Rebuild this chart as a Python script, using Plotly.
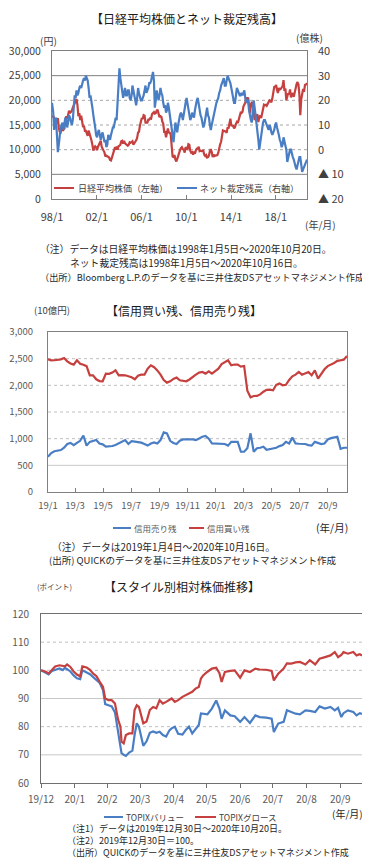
import plotly.graph_objects as go
import pandas as pd

# The page body has an 8px default margin, so the figure is sized/positioned to compensate.
OFF = 8
W, H = 370 - OFF, 863 - OFF
def px(x): return (x - OFF) / W
def py(y): return 1 - (y - OFF) / H

FONT = "Noto Sans CJK JP"
RED = "#C5403E"
BLUE = "#4A7EC4"

# ---------------- Chart 1: Nikkei vs net arbitrage (monthly, 1998/1 - 2020/10)
nikkei = [
    16600, 16800, 16500, 15500, 15300, 15800, 16400, 14500, 13600, 13500, 14800, 13800,  # 1998
    14000, 14300, 15800, 16800, 16200, 17500, 17900, 17400, 17600, 17900, 18500, 18900,  # 1999
    19500, 19900, 20300, 19000, 16800, 17400, 16000, 16900, 15900, 14600, 14800, 13800,  # 2000
    13800, 12900, 12800, 13900, 13300, 12900, 11900, 11000, 9800, 10400, 10700, 10500,   # 2001
    9900, 10600, 11000, 11500, 11800, 10600, 10000, 9800, 9400, 8600, 8800, 8600,        # 2002
    8400, 8400, 7900, 7800, 8400, 9100, 9600, 10300, 10200, 10600, 10000, 10700,         # 2003
    10800, 11000, 11700, 11800, 11200, 11800, 11300, 11100, 11000, 10800, 11000, 11500,  # 2004
    11400, 11700, 11700, 11000, 11200, 11600, 11900, 12400, 13500, 13600, 14900, 16100,  # 2005
    16400, 16200, 17000, 16900, 15500, 15500, 15500, 16100, 16100, 16400, 16300, 17200,  # 2006
    17400, 17600, 17300, 17400, 17900, 18100, 17300, 16600, 16800, 16700, 15700, 15300,  # 2007
    13600, 13600, 12500, 13800, 14300, 13500, 13400, 13100, 11300, 8600, 8500, 8900,     # 2008
    8000, 7600, 8100, 8800, 9500, 9900, 10300, 10500, 10100, 10000, 9400, 10500,         # 2009
    10200, 10100, 11100, 11000, 9800, 9400, 9500, 9000, 9400, 9200, 9900, 10200,         # 2010
    10200, 10600, 9700, 9800, 9700, 9800, 9800, 8950, 8700, 8900, 8400, 8500,            # 2011
    8800, 9700, 10100, 9500, 8500, 9000, 8700, 8800, 8900, 8900, 9400, 10400,            # 2012
    11100, 11600, 12400, 13900, 13800, 13700, 13700, 13400, 14500, 14300, 15700, 16300,  # 2013
    14900, 14800, 14800, 14300, 14600, 15200, 15600, 15400, 16200, 16400, 17500, 17450,  # 2014
    17700, 18800, 19200, 19500, 20600, 20200, 20600, 18900, 17400, 19100, 19700, 19000,  # 2015
    17500, 16000, 17000, 16700, 17200, 15600, 16600, 16900, 16400, 17400, 18300, 19100,  # 2016
    19000, 19100, 18900, 19200, 19700, 20000, 19900, 19600, 20400, 22000, 22700, 22800,  # 2017
    23100, 22100, 21500, 22500, 22200, 22300, 22600, 22900, 24100, 21900, 22400, 20000,  # 2018
    20800, 21400, 21200, 22200, 20600, 21300, 21500, 20700, 21800, 22900, 23300, 23700,  # 2019
    23200, 21100, 17000, 20200, 21900, 22300, 21700, 23100, 23200, 23500,                # 2020
]
net_arb = [
    19, 15, 8, 12, 13, 6, -1, 2, 6, 9, 10, 11,        # 1998
    8, 10, 13, 12, 9, 11, 14, 13, 11, 10, 12, 16,     # 1999
    22, 21, 24, 22, 23, 25, 26, 25, 27, 28, 29, 28,   # 2000
    30, 29, 28, 25, 21, 22, 20, 17, 14, 10, 9, 6,     # 2001
    5, 7, 8, 6, 4, 6, 7, 5, 3, 4, 1, 2,               # 2002
    6, 5, 4, 6, 8, 9, 9, 11, 13, 12, 18, 24,          # 2003
    33, 29, 26, 24, 21, 23, 25, 22, 22, 24, 24, 21,   # 2004
    20, 22, 26, 24, 22, 20, 18, 21, 25, 23, 21, 20,   # 2005
    20, 21, 22, 24, 26, 23, 24, 25, 27, 27, 28, 30,   # 2006
    31.5, 28, 17, 20, 24, 22, 20, 22, 25, 23, 22, 19, # 2007
    17, 18, 15, 16, 19, 17, 14, 12, 9, 5, 3, 7,       # 2008
    11, 9, 7, 10, 13, 14, 15, 14, 12, 15, 18, 19,     # 2009
    21, 19, 17, 14, 12, 13, 15, 14, 13, 16, 19, 20,   # 2010
    21, 18, 15, 14, 13, 11, 9, 10, 12, 15, 17, 14,    # 2011
    13, 10, 8, 10, 12, 14, 16, 17, 19, 20, 21, 23,    # 2012
    24, 26, 27, 28, 29, 26, 26, 28, 30, 29, 28, 27,   # 2013
    25, 22, 21, 19, 19, 22, 25, 24, 23, 22, 22, 23,   # 2014
    22, 23, 24, 21, 19, 20, 20, 16, 13, 12, 11, 16,   # 2015
    20, 17, 14, 11, 9, 4, 0, 3, 7, 10, 11, 12,        # 2016
    12, 11, 10, 9, 8, 10, 9, 7, 6, 7, 8, 10,          # 2017
    11, 9, 8, 6, 4, 3, 1, 2, 5, 3, 2, 0,              # 2018
    -5, -3, -1, 0, 0, -2, -3, -4, -6, -7, -8, -6,     # 2019
    -4, -3, -3, -6, -9, -8, -7, -6, -5, -4,           # 2020
]
c1_dates = list(pd.date_range("1998-01-01", "2020-10-01", freq="MS") + pd.Timedelta(days=14))
c1_dates[0] = pd.Timestamp("1998-01-05")
c1_dates[-1] = pd.Timestamp("2020-10-20")
c1_xticks = ["1998-01-05", "2002-01-05", "2006-01-05", "2010-01-05", "2014-01-05", "2018-01-05"]
c1_xlabels = ["98/1", "02/1", "06/1", "10/1", "14/1", "18/1"]
c1_yl_vals = [0, 5000, 10000, 15000, 20000, 25000, 30000]
c1_yl_text = ["0", "5,000", "10,000", "15,000", "20,000", "25,000", "30,000"]
c1_yr_vals = [-20, -10, 0, 10, 20, 30, 40]
c1_yr_text = ["▲ 20", "▲ 10", "0", "10", "20", "30", "40"]

# ---------------- Chart 2: margin balances (weekly 2019/1/4 - 2020/10/16)
margin_buy = [
    2487, 2469, 2470, 2475, 2487, 2512, 2450, 2410, 2388, 2469,
    2406, 2385, 2360, 2188, 2188, 2113, 2080, 2076, 2220, 2215,
    2240, 2282, 2188, 2190, 2188, 2170, 2150, 2113, 2180, 2200,
    2200, 2313, 2375, 2340, 2280, 2200, 2100, 2051, 2076, 2120,
    2145, 2095, 2090, 2076, 2110, 2160, 2200, 2238, 2250, 2220,
    2263, 2220, 2260, 2313, 2400, 2437, 2469, 2375, 2390, 2388,
    2350, 2363, 1900, 1775, 1800, 1802, 1830, 1880, 1915, 1920,
    1908, 2010, 2033, 2000, 2010, 2100, 2170, 2200, 2250, 2200,
    2230, 2250, 2188, 2282, 2126, 2220, 2300, 2360, 2388, 2420,
    2460, 2470, 2480, 2550,
]
margin_sell = [
    662, 730, 765, 775, 787, 830, 900, 920, 880, 920,
    960, 1060, 870, 940, 950, 974, 910, 893, 850, 855,
    862, 880, 910, 940, 974, 900, 955, 945, 940, 925,
    900, 870, 910, 930, 910, 974, 1117, 1100, 960, 920,
    900, 960, 985, 980, 985, 985, 975, 1004, 1035, 1050,
    1000, 910, 910, 910, 905, 900, 870, 940, 940, 940,
    755, 755, 820, 1100, 755, 820, 830, 850, 790, 800,
    810, 830, 860, 880, 940, 910, 1020, 910, 905, 900,
    900, 880, 870, 940, 920, 900, 910, 985, 1010, 1030,
    1035, 810, 830, 830,
]
c2_dates = pd.date_range("2019-01-04", periods=len(margin_buy), freq="7D")
c2_xticks = ["2019-01-04", "2019-03-04", "2019-05-04", "2019-07-04", "2019-09-04", "2019-11-04",
             "2020-01-04", "2020-03-04", "2020-05-04", "2020-07-04", "2020-09-04"]
c2_xlabels = ["19/1", "19/3", "19/5", "19/7", "19/9", "19/11", "20/1", "20/3", "20/5", "20/7", "20/9"]
c2_yvals = [0, 500, 1000, 1500, 2000, 2500, 3000]
c2_ytext = ["0", "500", "1,000", "1,500", "2,000", "2,500", "3,000"]

# ---------------- Chart 3: TOPIX value / growth (2019/12/30 = 100)
c3_dates = [
    "2019-12-30", "2020-01-03", "2020-01-06", "2020-01-09", "2020-01-12", "2020-01-16", "2020-01-19",
    "2020-01-21", "2020-01-23", "2020-01-26", "2020-01-29", "2020-02-01", "2020-02-04", "2020-02-06",
    "2020-02-10", "2020-02-13", "2020-02-16", "2020-02-19", "2020-02-22", "2020-02-25", "2020-02-27",
    "2020-03-01", "2020-03-04", "2020-03-07", "2020-03-09", "2020-03-10", "2020-03-12", "2020-03-13",
    "2020-03-15", "2020-03-17", "2020-03-20", "2020-03-23", "2020-03-25", "2020-03-27", "2020-03-29",
    "2020-03-31", "2020-04-02", "2020-04-05", "2020-04-08", "2020-04-11", "2020-04-14", "2020-04-17",
    "2020-04-20", "2020-04-23", "2020-04-26", "2020-04-28", "2020-05-01", "2020-05-04", "2020-05-08",
    "2020-05-11", "2020-05-14", "2020-05-17", "2020-05-20", "2020-05-23", "2020-05-25", "2020-05-27",
    "2020-05-31", "2020-06-04", "2020-06-08", "2020-06-11", "2020-06-13", "2020-06-16", "2020-06-21",
    "2020-06-25", "2020-06-30", "2020-07-04", "2020-07-09", "2020-07-14", "2020-07-18", "2020-07-24",
    "2020-07-29", "2020-07-31", "2020-08-04", "2020-08-09", "2020-08-12", "2020-08-16", "2020-08-20",
    "2020-08-24", "2020-08-29", "2020-09-02", "2020-09-07", "2020-09-11", "2020-09-16", "2020-09-21",
    "2020-09-25", "2020-09-28", "2020-10-01", "2020-10-03", "2020-10-07", "2020-10-12", "2020-10-15",
    "2020-10-18", "2020-10-20",
]
topix_growth = [
    100.0, 99.6, 98.9, 100.2, 101.4, 101.8, 101.5,
    101.4, 102.1, 101.2, 99.6, 98.5, 97.9, 101.4,
    101.0, 100.2, 98.8, 97.9, 95.9, 94.1, 90.0,
    89.4, 89.4, 88.2, 84.1, 82.3, 80.0, 74.7,
    74.1, 77.0, 77.6, 77.6, 85.9, 87.6, 87.0,
    84.0, 81.2, 81.8, 85.9, 87.0, 86.5, 89.4,
    88.2, 88.8, 89.5, 90.0, 88.8, 89.4, 90.6,
    91.2, 91.8, 92.4, 93.5, 94.1, 97.1, 98.2,
    99.5, 100.6, 100.9, 99.0, 95.9, 99.4, 99.8,
    100.0, 97.4, 100.0, 99.4, 100.6, 100.3, 100.2,
    99.8, 96.4, 98.8, 100.6, 102.5, 102.4, 102.8,
    103.0, 102.1, 103.6, 102.1, 104.1, 104.7, 105.3,
    106.5, 104.7, 105.5, 106.5, 105.9, 106.5, 105.3,
    105.7, 105.3,
]
topix_value = [
    100.0, 99.3, 98.6, 99.8, 100.3, 100.7, 100.1,
    100.9, 100.4, 99.6, 98.2, 97.2, 96.9, 100.0,
    99.2, 98.6, 97.6, 96.5, 95.5, 93.0, 88.0,
    87.6, 87.2, 85.0, 80.5, 78.7, 74.0, 70.6,
    70.0, 69.6, 70.8, 71.5, 77.0, 81.2, 80.0,
    76.5, 73.2, 74.8, 77.8, 78.3, 77.8, 78.2,
    77.0, 76.5, 78.7, 79.4, 80.0, 77.5, 77.2,
    78.8, 80.0, 77.6, 79.2, 80.6, 84.7, 84.6,
    84.4, 86.4, 89.3, 86.4, 82.8, 85.8, 84.0,
    83.7, 81.7, 83.4, 81.3, 84.0, 83.4, 83.2,
    82.8, 78.1, 81.1, 81.7, 85.8, 85.2, 84.6,
    84.4, 85.8, 85.6, 85.2, 87.2, 86.4, 87.0,
    85.8, 86.7, 83.4, 84.8, 85.8, 85.2, 84.0,
    84.8, 84.5,
]
c3_xticks = ["2019-12-30", "2020-01-30", "2020-02-29", "2020-03-30", "2020-04-30", "2020-05-30",
             "2020-06-30", "2020-07-30", "2020-08-30", "2020-09-30"]
c3_xlabels = ["19/12", "20/1", "20/2", "20/3", "20/4", "20/5", "20/6", "20/7", "20/8", "20/9"]
c3_yvals = [60, 70, 80, 90, 100, 110, 120]

fig = go.Figure()
fig.add_trace(go.Scatter(x=c1_dates, y=nikkei, mode="lines", line=dict(color=RED, width=2.2),
                         xaxis="x", yaxis="y", showlegend=False, name="日経平均株価（左軸）"))
fig.add_trace(go.Scatter(x=c1_dates, y=net_arb, mode="lines", line=dict(color=BLUE, width=2.2),
                         xaxis="x", yaxis="y2", showlegend=False, name="ネット裁定残高（右軸）"))
fig.add_trace(go.Scatter(x=c2_dates, y=margin_sell, mode="lines", line=dict(color=BLUE, width=2.2),
                         xaxis="x2", yaxis="y3", showlegend=False, name="信用売り残"))
fig.add_trace(go.Scatter(x=c2_dates, y=margin_buy, mode="lines", line=dict(color=RED, width=2.2),
                         xaxis="x2", yaxis="y3", showlegend=False, name="信用買い残"))
fig.add_trace(go.Scatter(x=c3_dates, y=topix_value, mode="lines", line=dict(color=BLUE, width=2.2),
                         xaxis="x3", yaxis="y4", showlegend=False, name="TOPIXバリュー"))
fig.add_trace(go.Scatter(x=c3_dates, y=topix_growth, mode="lines", line=dict(color=RED, width=2.2),
                         xaxis="x3", yaxis="y4", showlegend=False, name="TOPIXグロース"))

shapes = []
def hgrid(xref, yref, val, color, dash, width=1):
    shapes.append(dict(type="line", xref=xref + " domain", yref=yref, x0=0, x1=1, y0=val, y1=val,
                       line=dict(color=color, width=width, dash=dash), layer="below"))

# chart 1 grid
for v, c, d in [(5000, "#7f7f7f", "solid"), (10000, "#a6a6a6", "dot"), (15000, "#a6a6a6", "dot"),
                (20000, "#a6a6a6", "dot"), (25000, "#7f7f7f", "solid")]:
    hgrid("x", "y", v, c, d)
# chart 2 grid
for v, c, d in [(500, "#c8c8c8", "solid"), (1000, "#bfbfbf", "dot"), (1500, "#bfbfbf", "dot"),
                (2000, "#bfbfbf", "dot"), (2500, "#bfbfbf", "dot")]:
    hgrid("x2", "y3", v, c, d)
# chart 3 grid
for v, c, d in [(70, "#c8c8c8", "solid"), (80, "#bfbfbf", "dot"), (90, "#c8c8c8", "solid"),
                (100, "#bfbfbf", "dot"), (110, "#bfbfbf", "dot")]:
    hgrid("x3", "y4", v, c, d)

annotations = []
def text(x, y, s, size, color="#262626", xanchor="left"):
    annotations.append(dict(x=px(x), y=py(y), xref="paper", yref="paper", text=s, showarrow=False,
                            xanchor=xanchor, yanchor="middle",
                            font=dict(family=FONT, size=size, color=color)))
def legline(x0, x1, y, color):
    shapes.append(dict(type="line", xref="paper", yref="paper", x0=px(x0), x1=px(x1), y0=py(y), y1=py(y),
                       line=dict(color=color, width=2)))

# chart 1 texts
text(187, 18, "【日経平均株価とネット裁定残高】", 12, "#1a1a1a", "center")
text(38, 40, "(円)", 10, "#404040")
text(294, 37, "(億株)", 10, "#404040")
legline(54, 74, 188, RED)
text(76, 188, "日経平均株価（左軸）", 9, "#404040")
legline(177, 197, 188, BLUE)
text(198, 188, "ネット裁定残高（右軸）", 9, "#404040")
text(303, 224, "(年/月)", 10, "#404040")
text(38, 249, "（注）データは日経平均株価は1998年1月5日～2020年10月20日。", 9.8)
text(68, 263, "ネット裁定残高は1998年1月5日～2020年10月16日。", 9.8)
text(38, 277, "（出所）Bloomberg L.P.のデータを基に三井住友DSアセットマネジメント作成", 9.2)

# chart 2 texts
text(32, 310, "(10億円)", 9.5, "#404040")
text(184, 310, "【信用買い残、信用売り残】", 12, "#1a1a1a", "center")
legline(113, 131, 528, BLUE)
text(132, 528, "信用売り残", 8.5, "#595959")
legline(189, 204, 528, RED)
text(205, 528, "信用買い残", 8.5, "#595959")
text(314, 527, "(年/月)", 10.5, "#262626")
text(50, 547, "（注）データは2019年1月4日～2020年10月16日。", 9.8)
text(47, 560, "(出所) QUICKのデータを基に三井住友DSアセットマネジメント作成", 9.5)

# chart 3 texts
text(35, 586, "(ポイント)", 7.5, "#404040")
text(182, 586, "【スタイル別相対株価推移】", 12, "#1a1a1a", "center")
legline(104, 123, 817, BLUE)
text(124, 817, "TOPIXバリュー", 8.5, "#404040")
legline(195, 216, 817, RED)
text(217, 817, "TOPIXグロース", 8.5, "#404040")
text(330, 813, "(年/月)", 10, "#262626")
text(65, 828, "（注1）データは2019年12月30日～2020年10月20日。", 9)
text(65, 840, "（注2）2019年12月30日＝100。", 9)
text(65, 852, "（出所）QUICKのデータを基に三井住友DSアセットマネジメント作成", 9)

tick1 = dict(family=FONT, size=11, color="#404040")
tick1l = dict(family=FONT, size=10.5, color="#404040")
tick2 = dict(family=FONT, size=9.5, color="#595959")
tick3 = dict(family=FONT, size=10, color="#595959")

fig.update_layout(
    width=W, height=H, margin=dict(l=0, r=0, t=0, b=0, autoexpand=False),
    paper_bgcolor="white", plot_bgcolor="white", showlegend=False,
    font=dict(family=FONT),
    xaxis=dict(domain=[px(52), px(307)], anchor="y", type="date", automargin=False,
               range=["1998-01-05", "2020-10-20"], tickvals=c1_xticks, ticktext=c1_xlabels,
               ticks="inside", ticklen=4, tickcolor="#808080", showgrid=False,
               showline=True, linecolor="#808080", mirror=True, tickfont=tick1,
               ticklabelstandoff=8),
    yaxis=dict(domain=[py(199), py(51)], anchor="x", range=[0, 30000], automargin=False,
               tickvals=c1_yl_vals, ticktext=c1_yl_text, showgrid=False, zeroline=False,
               showline=True, linecolor="#808080", mirror=True, tickfont=tick1l, ticks="",
               ticklabelstandoff=8),
    yaxis2=dict(overlaying="y", side="right", anchor="x", range=[-20, 40], automargin=False,
                tickvals=c1_yr_vals, ticktext=c1_yr_text, showgrid=False, zeroline=False,
                showline=False, tickfont=tick1, ticks="", ticklabelstandoff=10),
    xaxis2=dict(domain=[px(48), px(347)], anchor="y3", type="date", automargin=False,
                range=["2019-01-04", "2020-10-16"], tickvals=c2_xticks, ticktext=c2_xlabels,
                ticks="inside", ticklen=4, tickcolor="#808080", showgrid=False,
                showline=True, linecolor="#808080", mirror=True, tickfont=tick2,
                ticklabelstandoff=5),
    yaxis3=dict(domain=[py(492), py(332)], anchor="x2", range=[0, 3000], automargin=False,
                tickvals=c2_yvals, ticktext=c2_ytext, showgrid=False, zeroline=False,
                showline=True, linecolor="#808080", mirror=True, tickfont=tick2, ticks="",
                ticklabelstandoff=12),
    xaxis3=dict(domain=[px(41), px(362)], anchor="y4", type="date", automargin=False,
                range=["2019-12-30", "2020-10-20"], tickvals=c3_xticks, ticktext=c3_xlabels,
                ticks="outside", ticklen=4, tickcolor="#707070", showgrid=False,
                showline=True, linecolor="#707070", mirror=True, tickfont=tick3,
                ticklabelstandoff=3),
    yaxis4=dict(domain=[py(783), py(614)], anchor="x3", range=[60, 120], automargin=False,
                tickvals=c3_yvals, showgrid=False, zeroline=False,
                showline=True, linecolor="#707070", mirror=True, tickfont=tick3, ticks="",
                ticklabelstandoff=9),
    shapes=shapes, annotations=annotations,
)

fig.write_html("out.html")
